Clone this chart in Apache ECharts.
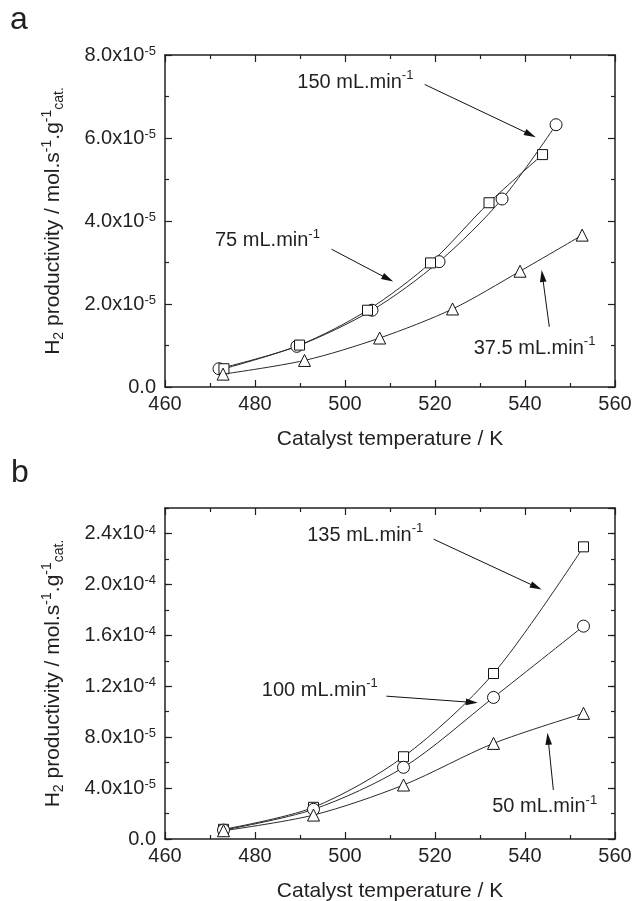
<!DOCTYPE html>
<html><head><meta charset="utf-8">
<script src="https://cdn.jsdelivr.net/npm/echarts@6/dist/echarts.min.js"></script>
<style>html,body{margin:0;padding:0;background:#fff}#c{width:635px;height:901px}</style>
</head><body><div id="c"></div>
<script>
// ---------- Panel a data ----------
const tempA150 = [472.0, 489.3, 506.0, 520.9, 534.9, 546.9];
const prodA150 = [4.4e-6, 9.8e-6, 1.85e-5, 3.02e-5, 4.53e-5, 6.32e-5];
const tempA75  = [473.1, 489.9, 505.0, 519.0, 532.0, 543.9];
const prodA75  = [4.4e-6, 1.01e-5, 1.85e-5, 2.99e-5, 4.44e-5, 5.60e-5];
const tempA37  = [472.9, 491.0, 507.7, 523.9, 538.9, 552.7];
const prodA37  = [3.1e-6, 6.4e-6, 1.18e-5, 1.88e-5, 2.79e-5, 3.66e-5];
// ---------- Panel b data ----------
const tempB    = [473, 493, 513, 533, 553];
const prodB135 = [7.6e-6, 2.49e-5, 6.46e-5, 1.30e-4, 2.295e-4];
const prodB100 = [7.0e-6, 2.33e-5, 5.63e-5, 1.112e-4, 1.672e-4];
const prodB50  = [6.5e-6, 1.88e-5, 4.24e-5, 7.51e-5, 9.87e-5];
// ---------- tick labels ----------
const xTicks  = [460, 480, 500, 520, 540, 560];
const yTicksA = [0, 2e-5, 4e-5, 6e-5, 8e-5];
const yTicksB = [0, 4e-5, 8e-5, 1.2e-4, 1.6e-4, 2.0e-4, 2.4e-4];
const yMaxB   = 2.6e-4;
// ---------- annotations (data coordinates) ----------
const notesA = [
  {label: '150 mL.min', at: [489.3, 7.34e-5], from: [517.7, 7.29e-5], to: [542.4, 6.02e-5]},
  {label: '75 mL.min',  at: [471.0, 3.52e-5], from: [497.0, 3.32e-5], to: [510.7, 2.54e-5]},
  {label: '37.5 mL.min',at: [528.5, 0.94e-5], from: [545.4, 1.45e-5], to: [543.7, 2.82e-5]}
];
const notesB = [
  {label: '135 mL.min', at: [491.5, 23.86e-5], from: [519.7, 23.55e-5], to: [543.7, 19.6e-5]},
  {label: '100 mL.min', at: [481.4, 11.70e-5], from: [509.2, 11.22e-5], to: [529.5, 10.70e-5]},
  {label: '50 mL.min',  at: [532.6, 2.55e-5],  from: [546.3, 3.85e-5],  to: [545.0, 8.34e-5]}
];

const FONT = "'Liberation Sans', Arial, Helvetica, sans-serif";
const TXT = '#231f20';
const AX = '#231f20';
const LINE = '#2a2a2a';

function zip(xs, ys) { return xs.map((x, i) => [x, ys[i]]); }
function fmtSci(v) {
  if (Math.abs(v) < 1e-12) return '0.0';
  const e = Math.floor(Math.log10(v) + 1e-9);
  const m = v / Math.pow(10, e);
  return m.toFixed(1) + 'x10{sup|' + e + '}';
}
const tickRich = { sup: {fontSize: 13, fontFamily: FONT, color: TXT, verticalAlign: 'top', lineHeight: 9} };
const nameRich = {
  sup: {fontSize: 14, fontFamily: FONT, color: TXT, verticalAlign: 'top', lineHeight: 10},
  sub: {fontSize: 14, fontFamily: FONT, color: TXT, verticalAlign: 'bottom', lineHeight: 10}
};

function xAx(grid, pos, labels) {
  return {
    type: 'value', gridIndex: grid, position: pos,
    min: xTicks[0], max: xTicks[xTicks.length - 1], interval: xTicks[1] - xTicks[0],
    axisLine: {show: true, onZero: false, lineStyle: {color: AX, width: 1.5}},
    axisTick: {show: true, inside: true, length: 7, lineStyle: {color: AX, width: 1.2}},
    minorTick: {show: true, splitNumber: 2, length: 4, lineStyle: {color: AX, width: 1.2}},
    splitLine: {show: false}, minorSplitLine: {show: false},
    axisLabel: {show: labels, margin: 7, fontSize: 20, fontFamily: FONT, color: TXT,
                hideOverlap: false, formatter: v => String(v)},
    name: labels ? 'Catalyst temperature / K' : '',
    nameLocation: 'middle', nameGap: 42,
    nameTextStyle: {fontSize: 21, fontFamily: FONT, color: TXT}
  };
}
function yAx(grid, pos, ticks, max, opts) {
  opts = opts || {};
  return {
    type: 'value', gridIndex: grid, position: pos, offset: 0,
    min: 0, max: max, interval: opts.interval || (ticks[1] - ticks[0]),
    axisLine: {show: opts.line !== false, onZero: false, lineStyle: {color: AX, width: 1.5}},
    axisTick: {show: true, inside: true, length: opts.tickLen || 7, lineStyle: {color: AX, width: 1.2}},
    minorTick: {show: !!opts.minor, splitNumber: 2, length: 4, lineStyle: {color: AX, width: 1.2}},
    splitLine: {show: false}, minorSplitLine: {show: false},
    axisLabel: {show: !!opts.labels, margin: 9, fontSize: 20, fontFamily: FONT, color: TXT,
                lineHeight: 20, hideOverlap: false, showMaxLabel: opts.showMax !== false,
                formatter: fmtSci, rich: tickRich},
    name: opts.labels ? 'H{sub|2} productivity / mol.s{sup|-1}.g{sup|-1}{sub|cat.}' : '',
    nameLocation: 'middle', nameRotate: 90, nameGap: 99,
    nameTextStyle: {fontSize: 21, fontFamily: FONT, color: TXT, lineHeight: 26, rich: nameRich}
  };
}

function markPoints(notes) {
  return {
    silent: true,
    data: notes.map(n => ({
      coord: n.at, symbol: 'circle', symbolSize: 1, itemStyle: {color: 'rgba(0,0,0,0)'},
      label: {show: true, position: 'right', distance: 0, fontSize: 20, fontFamily: FONT, color: TXT,
              lineHeight: 26, formatter: () => n.label + '{sup|-1}',
              rich: {sup: {fontSize: 13, fontFamily: FONT, color: TXT, verticalAlign: 'top', lineHeight: 10}}}
    }))
  };
}
function ser(name, data, symbol, size, xi, yi, extra) {
  return Object.assign({
    name: name, type: 'line', xAxisIndex: xi, yAxisIndex: yi, data: data,
    smooth: 0.3, symbol: symbol, symbolSize: size, showSymbol: true,
    lineStyle: {color: LINE, width: 1},
    itemStyle: {color: '#fff', borderColor: '#111', borderWidth: 1},
    emphasis: {disabled: true}, z: 3
  }, extra || {});
}

const option = {
  backgroundColor: '#fff',
  animation: false,
  textStyle: {fontFamily: FONT},
  grid: [
    {left: 165, top: 55, width: 450, height: 332, outerBoundsMode: 'none', containLabel: false},
    {left: 165, top: 508, width: 450, height: 331, outerBoundsMode: 'none', containLabel: false}
  ],
  xAxis: [xAx(0, 'bottom', true), xAx(0, 'top', false), xAx(1, 'bottom', true), xAx(1, 'top', false)],
  yAxis: [
    yAx(0, 'left', yTicksA, yTicksA[yTicksA.length - 1], {labels: true, minor: true}),
    yAx(0, 'right', yTicksA, yTicksA[yTicksA.length - 1], {minor: true}),
    yAx(1, 'left', yTicksB, yMaxB, {labels: true, showMax: false}),
    yAx(1, 'left', yTicksB, yMaxB, {interval: (yTicksB[1] - yTicksB[0]) / 2, tickLen: 4, line: false}),
    yAx(1, 'right', yTicksB, yMaxB, {}),
    yAx(1, 'right', yTicksB, yMaxB, {interval: (yTicksB[1] - yTicksB[0]) / 2, tickLen: 4, line: false})
  ],
  series: [
    ser('150 mL/min', zip(tempA150, prodA150), 'circle', 12, 0, 0, {markPoint: markPoints(notesA)}),
    ser('75 mL/min', zip(tempA75, prodA75), 'rect', 10, 0, 0),
    ser('37.5 mL/min', zip(tempA37, prodA37), 'triangle', 12, 0, 0),
    ser('135 mL/min', zip(tempB, prodB135), 'rect', 10, 2, 2, {markPoint: markPoints(notesB)}),
    ser('100 mL/min', zip(tempB, prodB100), 'circle', 12, 2, 2),
    ser('50 mL/min', zip(tempB, prodB50), 'triangle', 12, 2, 2)
  ]
};
const chart = echarts.init(document.getElementById('c'), null, {renderer: 'canvas', width: 635, height: 901});
chart.setOption(option);

// arrows: positions converted from data space through the chart's own scales
function arrowGraphics(notes, finder) {
  const out = [];
  notes.forEach(n => {
    const p0 = chart.convertToPixel(finder, n.from);
    const p1 = chart.convertToPixel(finder, n.to);
    const dx = p1[0] - p0[0], dy = p1[1] - p0[1];
    const L = Math.sqrt(dx * dx + dy * dy);
    const ux = dx / L, uy = dy / L;
    const hl = 12, hw = 3.3;
    const bx = p1[0] - ux * hl, by = p1[1] - uy * hl;
    out.push({type: 'line', silent: true, z: 10,
      shape: {x1: p0[0], y1: p0[1], x2: bx + ux * 2, y2: by + uy * 2},
      style: {stroke: '#111', lineWidth: 1}});
    out.push({type: 'polygon', silent: true, z: 10,
      shape: {points: [[p1[0], p1[1]], [bx - uy * hw, by + ux * hw], [bx + uy * hw, by - ux * hw]]},
      style: {fill: '#111'}});
  });
  return out;
}
const graphics = [
  {type: 'text', left: 10, top: 4, style: {text: 'a', fontSize: 32, fontFamily: FONT, fill: TXT}},
  {type: 'text', left: 11, top: 457, style: {text: 'b', fontSize: 32, fontFamily: FONT, fill: TXT}}
].concat(arrowGraphics(notesA, {xAxisIndex: 0, yAxisIndex: 0}))
 .concat(arrowGraphics(notesB, {xAxisIndex: 2, yAxisIndex: 2}));
chart.setOption({graphic: graphics});
</script>
</body></html>
